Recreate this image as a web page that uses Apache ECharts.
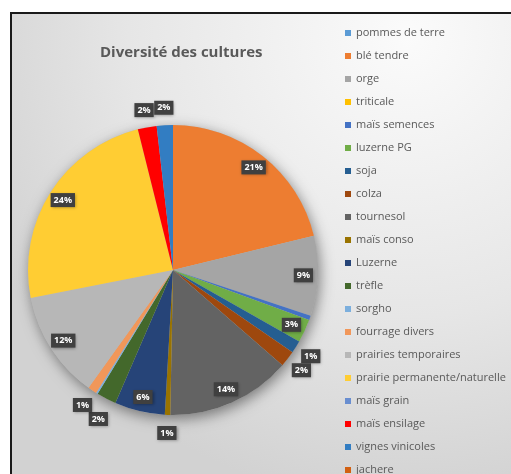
<!DOCTYPE html>
<html><head><meta charset="utf-8">
<script src="https://cdn.jsdelivr.net/npm/echarts@6/dist/echarts.min.js"></script>
<style>html,body{margin:0;padding:0;background:#fff;}#c{width:511px;height:474px;}</style>
</head><body><div id="c"></div>
<script>
// ---- data ----
const categories = ['pommes de terre','blé tendre','orge','triticale','maïs semences','luzerne PG','soja','colza','tournesol','maïs conso','Luzerne','trèfle','sorgho','fourrage divers','prairies temporaires','prairie permanente/naturelle','maïs grain','maïs ensilage','vignes vinicoles','jachere'];
const values = [0, 21.2, 8.9, 0, 0.5, 2.6, 1.4, 1.8, 13.9, 0.6, 5.6, 2.2, 0.2, 1.0, 12.0, 24.2, 0, 2.1, 1.8, 0];
const palette = ['#5B9BD5','#ED7D31','#A5A5A5','#FFC000','#4472C4','#70AD47','#255E91','#9E480E','#636363','#997300','#264478','#43682B','#7CAFDD','#F1975A','#B7B7B7','#FFCD33','#698ED0','#FF0000','#327DC2','#D26012'];
const chartTitle = 'Diversité des cultures';

const total = values.reduce((a,b)=>a+b,0);
const pct = v => v / total * 100;
const fmt = p => Math.round(pct(p.value)) + '%';
// mid-angle fraction of each slice (clockwise from 12 o'clock)
const midFrac = [];
values.reduce((cum, v) => { midFrac.push((cum + v / 2) / total); return cum + v; }, 0);
const lowerHalf = i => midFrac[i] > 0.25 && midFrac[i] < 0.75;

const FONT = 'Open Sans';
const CX = 173, CY = 270, R = 145;

const labelBase = {
  position: 'inside', formatter: fmt, color: '#fff', fontWeight: 'bold', fontSize: 9,
  fontFamily: FONT, lineHeight: 10, backgroundColor: '#404040',
  shadowColor: 'rgba(0,0,0,0.35)', shadowBlur: 3, shadowOffsetX: 1, shadowOffsetY: 1
};

const isOuter = i => pct(values[i]) >= 0.55 && pct(values[i]) < 2.5;
const mainData = categories.map((n,i)=>({name:n, value:values[i], itemStyle:{color:palette[i]}}));
const innerLabelData = categories.map((n,i)=>({name:n, value:values[i], label:{show: pct(values[i]) >= 2.5}}));
const outerTopData = categories.map((n,i)=>({name:n, value:values[i], label:{show: isOuter(i) && !lowerHalf(i)}}));
const outerBottomData = categories.map((n,i)=>({name:n, value:values[i], label:{show: isOuter(i) && lowerHalf(i)}}));

const outerSeries = (data, layout) => ({
  type: 'pie', center: [CX, CY], radius: [R, 174], z: 4, silent: true,
  avoidLabelOverlap: false, itemStyle: {color: 'rgba(0,0,0,0)'}, labelLine: {show: false},
  label: Object.assign({}, labelBase, {padding: [2, 3]}), data: data, labelLayout: layout
});

const chart = echarts.init(document.getElementById('c'), null, {renderer:'canvas'});
chart.setOption({
  animation: false,
  graphic: [{
    type: 'rect', z: -10, silent: true,
    shape: {x: 11, y: 13, width: 530, height: 490},
    style: {
      fill: new echarts.graphic.RadialGradient(0.75, 0.05, 0.95, [
        {offset: 0, color: '#fbfbfb'}, {offset: 0.6, color: '#e6e6e6'}, {offset: 1, color: '#d2d2d2'}
      ]),
      stroke: '#1a1a1a', lineWidth: 2
    }
  }],
  title: {
    text: chartTitle, left: 95, top: 40,
    textStyle: {fontSize: 15, fontWeight: 'bold', color: '#595959', fontFamily: FONT}
  },
  legend: {
    orient: 'vertical', left: 340, top: 21, height: 560, icon: 'rect', itemWidth: 6, itemHeight: 6,
    itemGap: 9, data: categories, selectedMode: false,
    textStyle: {fontSize: 11, color: '#595959', fontFamily: FONT, lineHeight: 14}
  },
  series: [
    {
      type: 'pie', name: 'main', center: [CX, CY], radius: [0, R], startAngle: 90, clockwise: true,
      avoidLabelOverlap: false, label: {show: false}, labelLine: {show: false}, z: 3,
      data: mainData, silent: true
    },
    {
      type: 'pie', name: 'shadow', center: [CX, CY], radius: [0, R], z: 2, silent: true,
      label: {show: false}, labelLine: {show: false},
      itemStyle: {color: '#bbbbbb', shadowBlur: 14, shadowOffsetX: 2, shadowOffsetY: 4, shadowColor: 'rgba(0,0,0,0.45)'},
      data: [{name: '_', value: 1}]
    },
    {
      type: 'pie', name: 'innerLabels', center: [CX, CY], radius: [110, R], z: 4, silent: true,
      avoidLabelOverlap: false, itemStyle: {color: 'rgba(0,0,0,0)'}, labelLine: {show: false},
      label: Object.assign({}, labelBase, {padding: [2, 3]}), data: innerLabelData,
      labelLayout: {hideOverlap: false}
    },
    outerSeries(outerTopData, {hideOverlap: false}),
    outerSeries(outerBottomData, {hideOverlap: false, moveOverlap: 'shiftY'})
  ]
});
</script></body></html>
